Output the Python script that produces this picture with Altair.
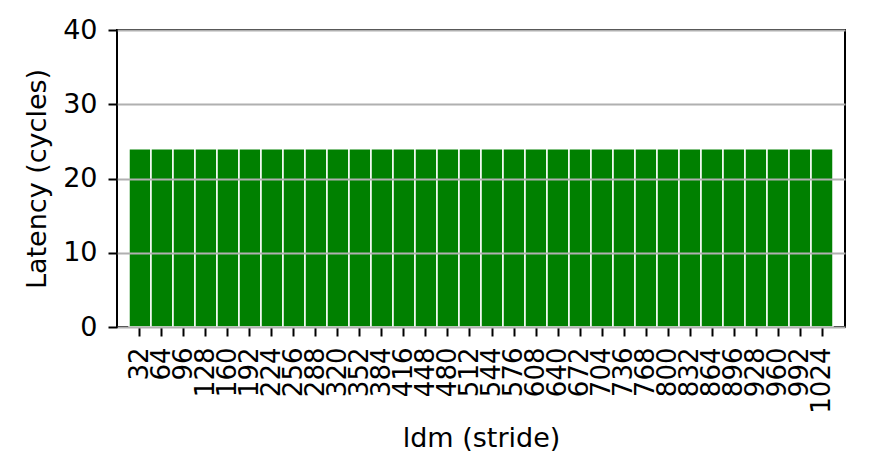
import altair as alt
import pandas as pd

strides = [32, 64, 96, 128, 160, 192, 224, 256, 288, 320, 352, 384, 416, 448, 480, 512,
           544, 576, 608, 640, 672, 704, 736, 768, 800, 832, 864, 896, 928, 960, 992, 1024]
latency = [24, 24, 24, 24, 24, 24, 24, 24, 24, 24, 24, 24, 24, 24, 24, 24,
           24, 24, 24, 24, 24, 24, 24, 24, 24, 24, 24, 24, 24, 24, 24, 24]
y_ticks = [0, 10, 20, 30, 40]

df = pd.DataFrame({"ldm": [str(s) for s in strides], "latency": latency})

FONT = "DejaVu Sans"

chart = (
    alt.Chart(df)
    .mark_bar(color="#008000", stroke="white", strokeWidth=1.5)
    .encode(
        x=alt.X(
            "ldm:N",
            sort=[str(s) for s in strides],
            scale=alt.Scale(paddingInner=0, paddingOuter=0.545),
            axis=alt.Axis(
                title="ldm (stride)",
                labelAngle=270,
                labelFontSize=26,
                titleFontSize=27,
                tickSize=9,
                tickWidth=2,
                tickColor="black",
                labelPadding=11,
                titlePadding=12,
                grid=False,
                domain=False,
            ),
        ),
        y=alt.Y(
            "latency:Q",
            scale=alt.Scale(domain=[0, 40], nice=False),
            axis=alt.Axis(
                title="Latency (cycles)",
                values=y_ticks,
                labelFontSize=27,
                titleFontSize=27,
                tickSize=9,
                tickWidth=2,
                tickColor="black",
                labelPadding=11,
                titlePadding=11,
                grid=True,
                gridColor="#b0b0b0",
                gridWidth=1.8,
                domain=False,
                zindex=1,
            ),
        ),
    )
    .properties(
        width=728,
        height=297,
        autosize=alt.AutoSizeParams(type="none"),
        padding={"left": 109, "top": 22, "right": 19, "bottom": 141},
    )
    .configure_view(stroke="black", strokeWidth=2)
    .configure_axis(
        labelFont=FONT,
        titleFont=FONT,
        labelColor="black",
        titleColor="black",
        titleFontWeight="normal",
    )
)

chart.save("out.html", embed_options={"renderer": "svg", "actions": False})
